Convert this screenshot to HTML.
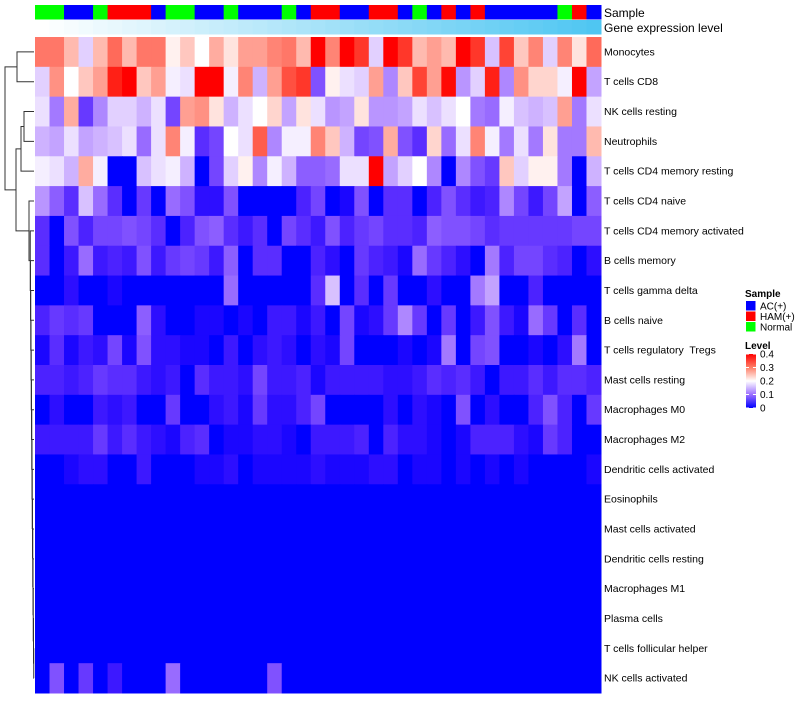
<!DOCTYPE html>
<html><head><meta charset="utf-8"><style>
body{margin:0;background:#fff;width:800px;height:700px;overflow:hidden;font-family:"Liberation Sans",sans-serif}
text{font-family:"Liberation Sans",sans-serif;white-space:pre}
</style></head><body>
<svg id="chart" width="800" height="700" xmlns="http://www.w3.org/2000/svg"></svg>
<script>
const rowNames=["Monocytes","T cells CD8","NK cells resting","Neutrophils","T cells CD4 memory resting","T cells CD4 naive","T cells CD4 memory activated","B cells memory","T cells gamma delta","B cells naive","T cells regulatory  Tregs","Mast cells resting","Macrophages M0","Macrophages M2","Dendritic cells activated","Eosinophils","Mast cells activated","Dendritic cells resting","Macrophages M1","Plasma cells","T cells follicular helper","NK cells activated"];
const sampleGroups="NNAANHHHANNAANAAANAHHAAHHANAHAHAAAAANHA".split("");
const r1=[.3,.3,.25,.17,.25,.31,.25,.3,.3,.21,.24,.2,.26,.22,.27,.27,.29,.3,.25,.4,.29,.4,.35,.17,.4,.35,.25,.27,.25,.4,.35,.16,.34,.24,.29,.17,.29,.22,.31];
const r2=[.17,.28,.2,.24,.27,.37,.4,.24,.27,.19,.18,.4,.4,.19,.29,.15,.27,.33,.35,.08,.21,.18,.17,.27,.12,.24,.34,.27,.39,.13,.17,.37,.12,.28,.23,.23,.19,.4,.14];
const r3=[.18,.11,.26,.06,.12,.17,.17,.15,.18,.07,.27,.28,.22,.15,.18,.2,.23,.14,.22,.18,.13,.14,.22,.13,.13,.14,.18,.16,.18,.2,.11,.1,.19,.16,.15,.16,.27,.11,.18];
const r4=[.15,.14,.18,.14,.15,.16,.18,.1,.18,.29,.19,.05,.07,.2,.18,.32,.12,.19,.19,.29,.24,.15,.07,.08,.26,.08,.05,.23,.1,.18,.29,.19,.11,.18,.11,.22,.11,.11,.25];
const r5=[.19,.18,.15,.26,.19,0,0,.16,.18,.19,.15,0,.07,.17,.21,.12,.19,.15,.09,.09,.1,.18,.18,.4,.14,.17,.2,.12,0,.12,.08,.06,.24,.17,.21,.21,.11,0,.15];
const r6=[.13,.09,.05,.16,.1,.05,0,.06,0,.1,.08,.02,.02,.08,0,0,0,0,.04,.07,0,.01,.08,0,.05,.05,0,.04,.08,.05,.03,.04,.12,.07,.03,.07,.14,0,.09];
const r7=[.05,0,.08,.04,.07,.07,.08,.07,.05,0,.04,.08,.09,.05,.03,.05,0,.07,.05,.03,.08,.04,.06,.07,.05,.05,.04,.09,.08,.08,.07,.05,.06,.06,.06,.06,.06,.07,.07];
const r8=[.05,0,.03,.1,.03,.04,.03,.08,.03,.06,.07,.06,.03,.09,0,.05,.05,0,0,.04,.02,0,.06,.04,.03,.01,.1,.06,.04,.02,0,.11,.04,.07,.07,.05,.04,0,.02];
const r9=[0,0,.02,0,0,.01,0,0,0,0,0,0,0,.1,0,0,0,0,0,.05,.16,0,.05,0,.06,0,0,.02,0,0,.11,.14,0,0,.04,0,0,0,0];
const r10=[.04,.06,.05,.06,0,0,0,.09,.02,0,0,.01,.01,0,.01,0,.03,.03,.01,.03,0,.07,.01,.02,.06,.12,.06,0,.06,0,.03,.08,.03,.01,.1,.06,0,.05,0];
const r11=[.01,.05,.01,.03,.02,.07,.01,.08,.02,.02,.01,.01,0,.03,0,.02,.03,.02,0,.02,.01,.07,0,0,0,.01,0,.01,.11,0,.07,.08,0,0,.01,0,.02,.11,0];
const r12=[.04,.04,.03,.04,.06,.05,.05,.03,.02,.03,0,.05,.03,.03,.02,.07,.03,.03,.04,.01,.03,.03,.03,.03,.02,.02,.03,.05,.04,.05,.03,0,.03,.03,.05,.03,.05,.05,.04];
const r13=[0,.02,0,0,.03,.02,.03,0,0,.06,0,0,.02,.03,.01,.06,.02,.02,.04,.07,0,0,0,0,.02,0,.02,.01,0,.08,0,.02,0,0,.04,.08,.04,0,.06];
const r14=[.03,.03,.03,.03,.06,.03,.05,.03,.02,.01,.04,.05,0,.01,.01,.02,.02,.01,0,.03,.03,.03,.04,0,.04,.02,.02,.01,0,.01,.04,.04,.04,.02,.01,.06,.04,0,0];
const r15=[0,0,.01,.02,.02,0,0,.03,0,0,0,.01,.01,.02,0,.01,.01,.01,.01,.02,.01,.01,.01,.02,.02,0,.01,.01,0,.01,0,.01,0,.01,0,0,0,0,.01];
const zeros=new Array(39).fill(0);
const r22=[0,.08,0,.06,0,.03,0,0,0,.1,0,0,0,0,0,0,.08,0,0,0,0,0,0,0,0,0,0,0,0,0,0,0,0,0,0,0,0,0,0];
const values=[r1,r2,r3,r4,r5,r6,r7,r8,r9,r10,r11,r12,r13,r14,r15,zeros,zeros,zeros,zeros,zeros,zeros,r22];
const levelTicks=[0,0.1,0.2,0.3,0.4];

const svg=document.getElementById('chart');
const NS="http://www.w3.org/2000/svg";
const X0=35,X1=601,Y0=37,Y1=693;
const nC=sampleGroups.length,nR=rowNames.length;
const cw=(X1-X0)/nC,rh=(Y1-Y0)/nR;
const xOf=i=>X0+i*cw, yOf=j=>Y0+j*rh;
function col(v){
  v=Math.max(0,Math.min(0.4,v));
  if(v<=0.2){const t=v/0.2;return `rgb(${Math.round(255*Math.pow(t,0.75))},${Math.round(255*Math.pow(t,1.25))},255)`;}
  const t=1-(v-0.2)/0.2;
  return `rgb(255,${Math.round(255*Math.pow(t,1.1))},${Math.round(255*Math.pow(t,1.3))})`;
}
function mk(tag,attrs,parent){const e=document.createElementNS(NS,tag);for(const k in attrs)e.setAttribute(k,attrs[k]);(parent||svg).appendChild(e);return e;}
const sCol={A:"#0000ff",H:"#ff0000",N:"#00ff00"};
for(let i=0;i<nC;i++){
  const r=mk('rect',{x:xOf(i),y:5,width:cw+0.5,height:14.5,fill:sCol[sampleGroups[i]]});
  
  
  const t=i/(nC-1);
  const g=mk('rect',{x:xOf(i),y:20,width:cw+0.5,height:14.5,fill:`rgb(${Math.round(255-176*t)},${Math.round(255-57*t)},${Math.round(255-13*t)})`});
  
  
}
let t1=mk('text',{x:604,y:17,'font-size':12,fill:'#000'});t1.textContent="Sample";


let t2=mk('text',{x:604,y:32,'font-size':12,fill:'#000'});t2.textContent="Gene expression level";


for(let j=0;j<nR;j++){
  for(let i=0;i<nC;i++){
    const r=mk('rect',{x:xOf(i),y:yOf(j),width:cw+0.5,height:rh+0.5,fill:col(values[j][i])});
    
    
  }
  const t=mk('text',{x:604,y:yOf(j)+rh/2+3.5,'font-size':10.5,fill:'#000'});
  t.textContent=rowNames[j];
  
  
}
const cy=j=>yOf(j)+rh/2;
const dg=mk('g',{stroke:'#333','stroke-width':1,fill:'none'});


function link(ya,xa,yb,xb,xm){mk('path',{d:`M${xa},${ya}H${xm}V${yb}H${xb}`},dg);}
let prevY=cy(21),prevX=34;
for(let j=20;j>=6;j--){const xm=34-(21-j)*0.25;link(cy(j),34,prevY,prevX,xm);prevY=(cy(j)+prevY)/2;prevX=xm;}
link(cy(5),34,prevY,prevX,29);let yb=(cy(5)+prevY)/2;
link(cy(2),34,cy(3),34,24);let y34=(cy(2)+cy(3))/2;
link(y34,24,cy(4),34,21);let y345=(y34+cy(4))/2;
link(y345,21,yb,29,16);let ybot=(y345+yb)/2;
link(cy(0),34,cy(1),34,17);let ytop=(cy(0)+cy(1))/2;
link(ytop,17,ybot,16,5);
const lg=mk('g',{});


let lt=mk('text',{x:745,y:297,'font-size':10,'font-weight':'bold'},lg);lt.textContent="Sample";
const ents=[["AC(+)","#0000ff"],["HAM(+)","#ff0000"],["Normal","#00ff00"]];
ents.forEach((e,k)=>{
  const r=mk('rect',{x:746,y:301+k*10.5,width:9.5,height:9.5,fill:e[1]},lg);
  
  
  const t=mk('text',{x:760,y:309.5+k*10.5,'font-size':10},lg);t.textContent=e[0];
  
  
});
let lt2=mk('text',{x:745,y:349,'font-size':10,'font-weight':'bold'},lg);lt2.textContent="Level";
const defs=mk('defs',{});
const grad=mk('linearGradient',{id:'lev',x1:0,y1:1,x2:0,y2:0},defs);
mk('stop',{offset:'0','stop-color':'#0000ff'},grad);
mk('stop',{offset:'0.25','stop-color':'#9c70ff'},grad);
mk('stop',{offset:'0.5','stop-color':'#ffffff'},grad);
mk('stop',{offset:'0.75','stop-color':'#ff7f68'},grad);
mk('stop',{offset:'1','stop-color':'#ff0000'},grad);
const cbTop=354,cbBot=408;
const cb=mk('rect',{x:746,y:cbTop,width:10,height:cbBot-cbTop,fill:'url(#lev)'},lg);


levelTicks.forEach(v=>{
  const y=cbBot-(v/0.4)*(cbBot-cbTop);
  mk('line',{x1:746,x2:749,y1:y,y2:y,stroke:'#fff'},lg);
  mk('line',{x1:753,x2:756,y1:y,y2:y,stroke:'#fff'},lg);
  const t=mk('text',{x:760,y:y+3.5,'font-size':10},lg);t.textContent=String(v);
  
  
});
</script>
</body></html>
